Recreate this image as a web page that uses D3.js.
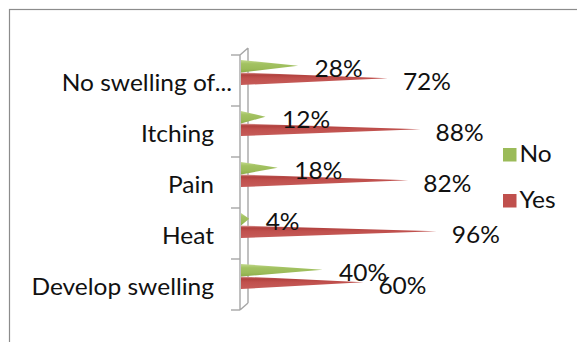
<!DOCTYPE html>
<html>
<head>
<meta charset="utf-8">
<script src="https://cdn.jsdelivr.net/npm/d3@7"></script>
<style>
  html, body { margin: 0; padding: 0; background: #fff; }
  svg { display: block; }
  text { font-family: Lato, "Open Sans", sans-serif; fill: #111; }
</style>
</head>
<body>
<svg id="chart" width="577" height="342"></svg>
<script>
// Survey responses per symptom (percent), listed top to bottom
const categories = ["No swelling of...", "Itching", "Pain", "Heat", "Develop swelling"];
const noValues = [28, 12, 18, 4, 40];
const yesValues = [72, 88, 82, 96, 60];
const seriesNames = ["No", "Yes"];
const seriesColors = ["#9bbb59", "#c0504d"];

const svg = d3.select("#chart");
const fontSize = 22.5;
const stretch = 1.09; // wide glyph proportions

// places a text node at (px, py) with the horizontal stretch applied
function placeText(sel, px, py) {
  sel.attr("x", 0).attr("y", 0)
    .attr("transform", (d, i) => `translate(${px(d, i)},${py(d, i)}) scale(${stretch},1)`)
    .attr("font-size", fontSize);
}

// chart area frame (runs off the right and bottom edges)
svg.append("rect")
  .attr("x", 9.5).attr("y", 9.5)
  .attr("width", 620).attr("height", 360)
  .attr("fill", "#fff")
  .attr("stroke", "#8c8c8c").attr("stroke-width", 1.2);

// scales
const x = d3.scaleLinear().domain([0, 100]).range([241, 445]);
const y = d3.scaleBand().domain(categories).range([55, 310]);
const depth = { dx: 8, dy: -7 };

// gradients giving the cones some roundness
const defs = svg.append("defs");
const gradStops = [
  [["0%", "#c3da8e"], ["30%", "#a3c262"], ["70%", "#9bbb59"], ["100%", "#8aab48"]],
  [["0%", "#e3a3a1"], ["18%", "#b0403d"], ["45%", "#c0504d"], ["100%", "#c65c59"]]
];
gradStops.forEach((stops, i) => {
  const g = defs.append("linearGradient")
    .attr("id", "cone" + i)
    .attr("x1", 0).attr("y1", 0).attr("x2", 0).attr("y2", 1);
  stops.forEach(s => g.append("stop").attr("offset", s[0]).attr("stop-color", s[1]));
});

// 3D axis wall: front and back vertical lines with slanted joins
const axisG = svg.append("g")
  .attr("fill", "none")
  .attr("stroke", "#a6a6a6")
  .attr("stroke-width", 1.4);
const y0 = y.range()[0], y1 = y.range()[1];
const xf = x(0) - 1;
axisG.append("path")
  .attr("d", `M${xf},${y0}V${y1}M${xf + depth.dx},${y0 + depth.dy}V${y1 + depth.dy}` +
             `M${xf},${y0}L${xf + depth.dx},${y0 + depth.dy}` +
             `M${xf},${y1}L${xf + depth.dx},${y1 + depth.dy}`);

// tick marks between categories
const tickPos = categories.map(c => y(c)).concat([y1]);
axisG.selectAll("line.tick")
  .data(tickPos)
  .join("line")
  .attr("class", "tick")
  .attr("x1", xf - 9).attr("x2", xf)
  .attr("y1", d => d).attr("y2", d => d);

// category labels
svg.append("g").selectAll("text")
  .data(categories)
  .join("text")
  .attr("text-anchor", "end")
  .call(placeText, d => d.endsWith("...") ? xf - 8 : xf - 26, d => y(d) + y.bandwidth() / 2 + 10)
  .text(d => d);

// cones
const barH = 12.5;
const series = [noValues, yesValues];
const rows = [];
categories.forEach((c, ci) => {
  series.forEach((vals, si) => {
    const top = y(c) + 5 + si * barH;
    rows.push({ c, si, v: vals[ci], top, bot: top + barH, mid: top + barH / 2 });
  });
});

svg.append("g").selectAll("path")
  .data(rows.slice().sort((a, b) => b.si - a.si))
  .join("path")
  .attr("d", d => `M${x(0)},${d.top}L${x(d.v)},${d.mid - 0.5}L${x(0)},${d.bot}Z`)
  .attr("fill", d => `url(#cone${d.si})`);

// value labels
svg.append("g").selectAll("text")
  .data(rows)
  .join("text")
  .call(placeText, d => x(d.v) + (d.si === 0 ? 16.5 : 15), d => d.mid + 11)
  .text(d => d.v + "%");

// legend
const legend = svg.append("g").selectAll("g")
  .data(seriesNames)
  .join("g")
  .attr("transform", (d, i) => `translate(503,${148 + i * 46})`);
legend.append("rect")
  .attr("width", 13.5).attr("height", 13.5)
  .attr("fill", (d, i) => seriesColors[i]);
legend.append("text")
  .call(placeText, () => 16.5, () => 14)
  .text(d => d);
</script>
</body>
</html>
